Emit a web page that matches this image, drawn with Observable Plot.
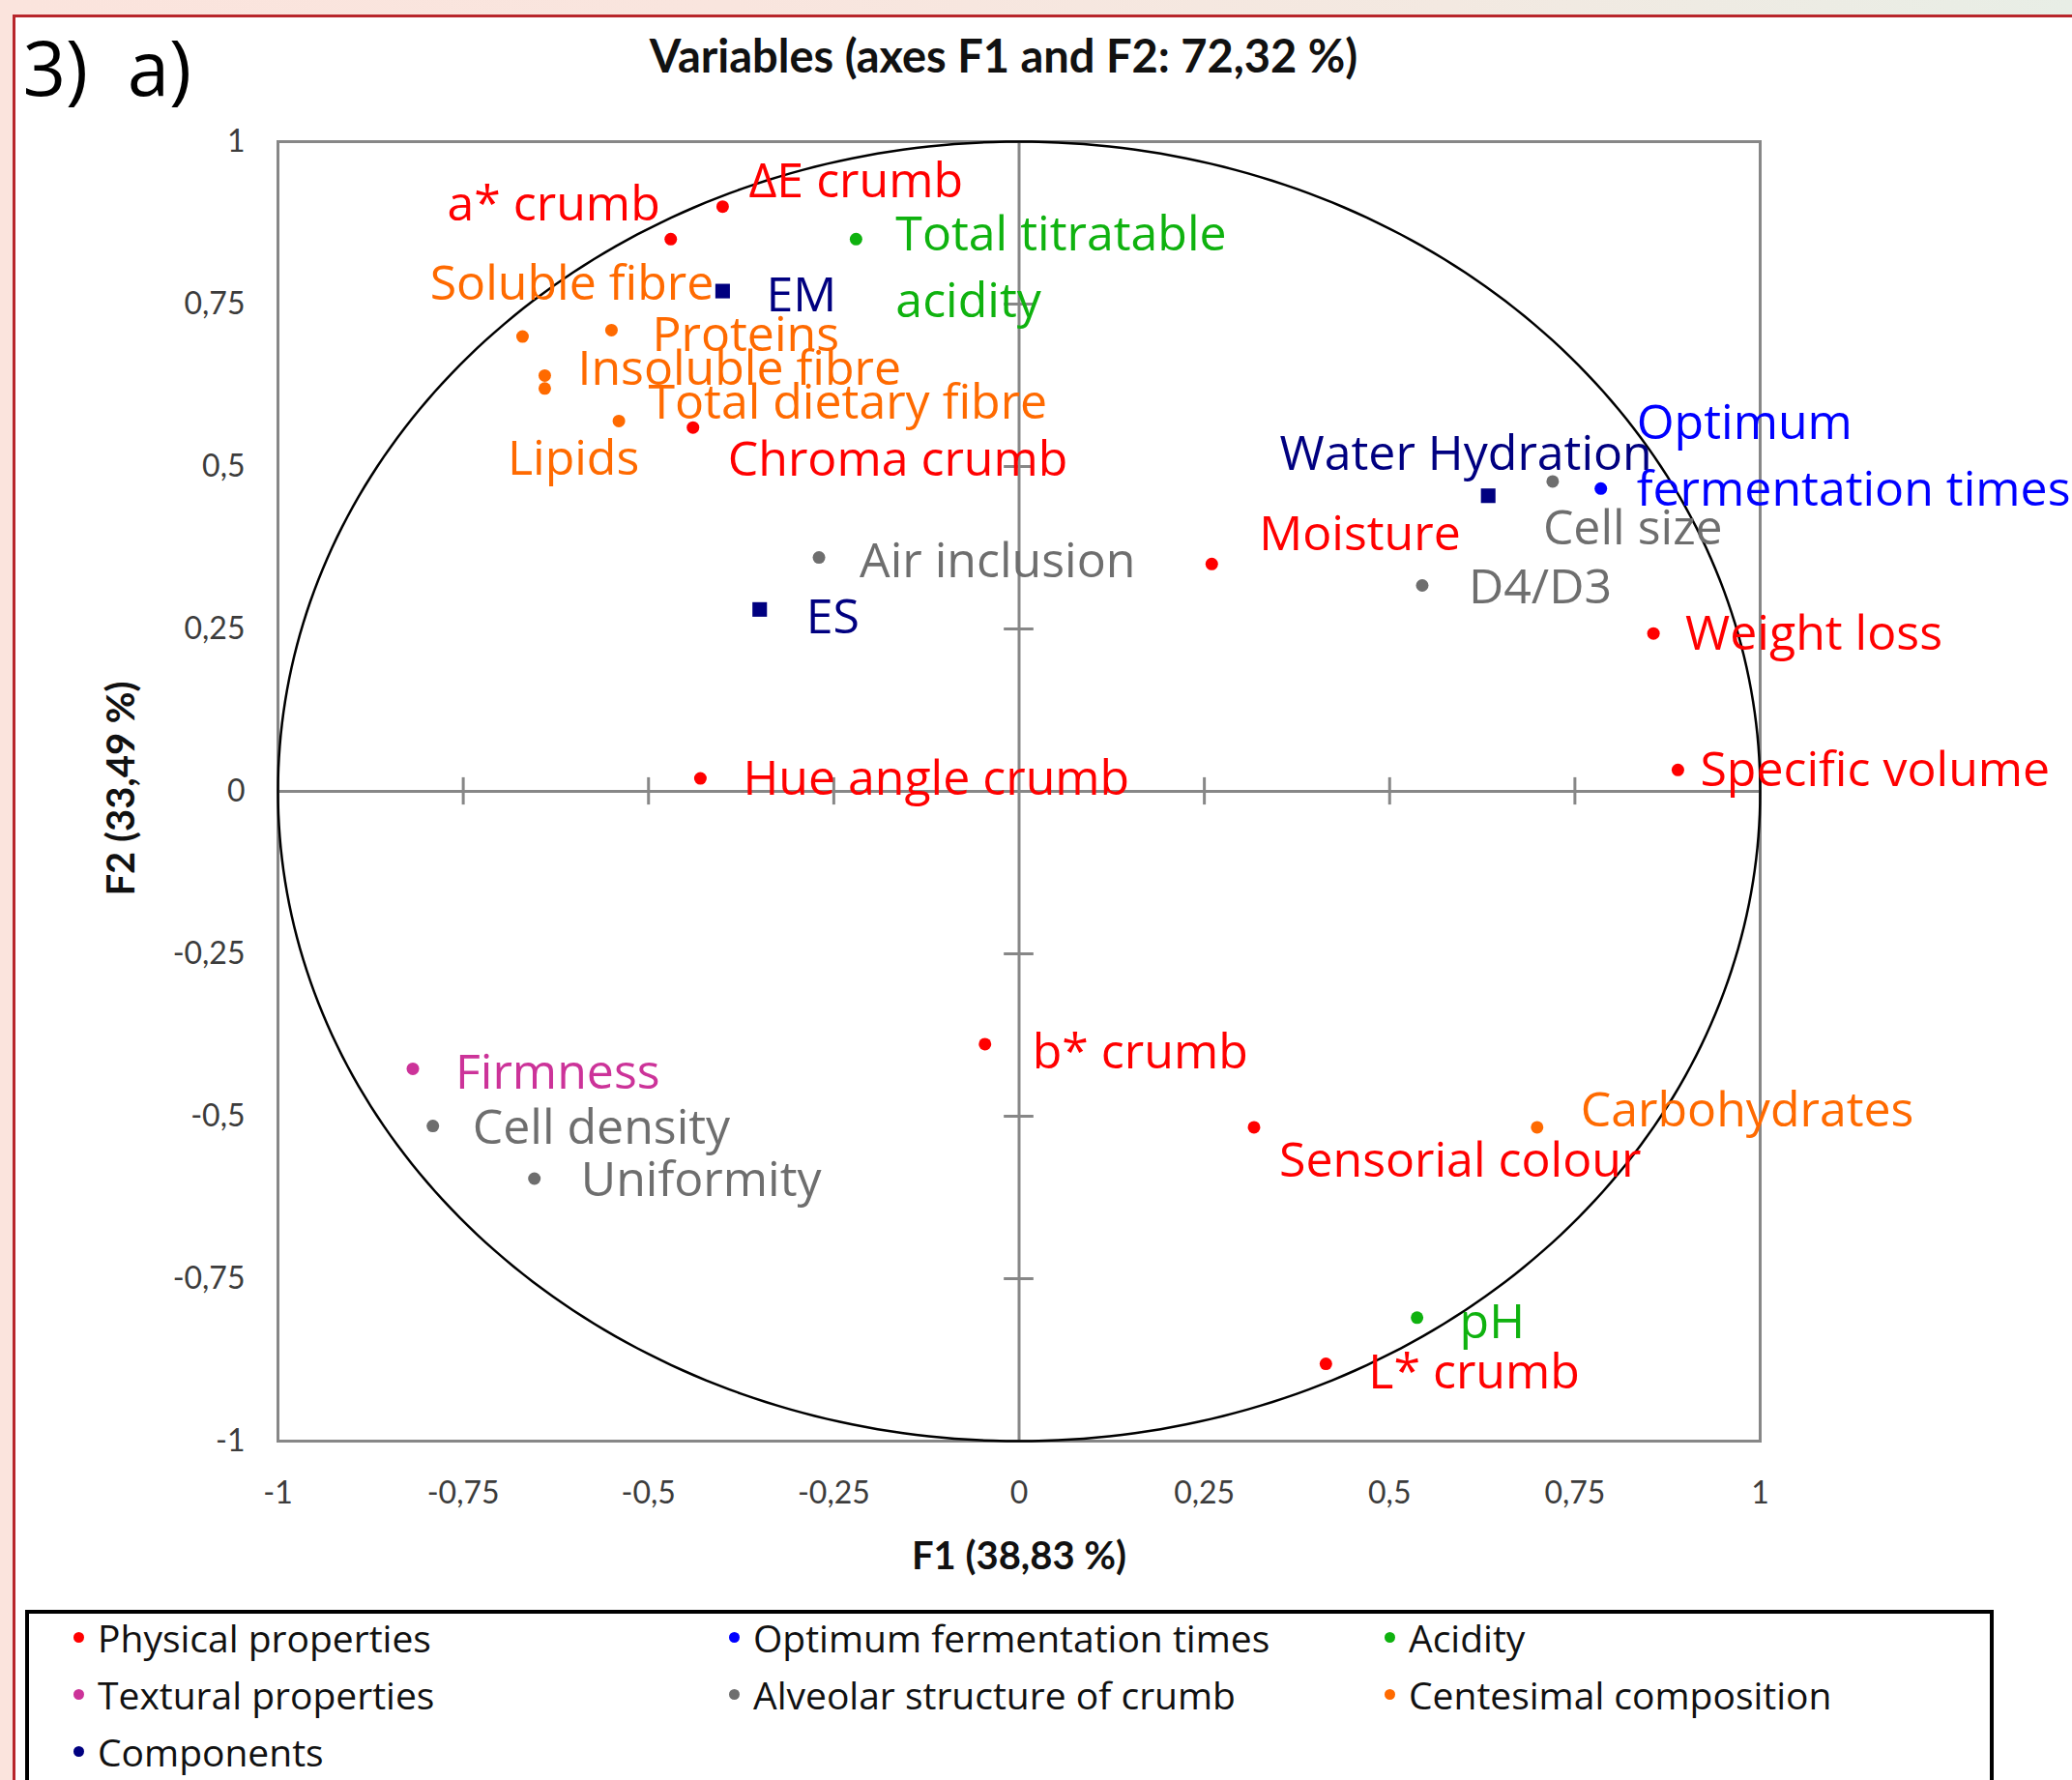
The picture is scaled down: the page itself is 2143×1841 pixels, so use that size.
<!DOCTYPE html>
<html>
<head>
<meta charset="utf-8">
<script src="https://cdn.jsdelivr.net/npm/d3@7"></script>
<script src="https://cdn.jsdelivr.net/npm/@observablehq/plot@0.6"></script>
<style>
html, body { margin: 0; padding: 0; }
body {
  width: 2143px; height: 1841px; position: relative; overflow: hidden;
  background: linear-gradient(90deg, #fbe4dd 0%, #f9e5de 35%, #f3e9e1 70%, #e8eee6 100%);
}
#panel {
  position: absolute; left: 13px; top: 15px; right: 0; bottom: 0;
  background: #ffffff; border-left: 3px solid #b8262b; border-top: 3px solid #b8262b;
}
#chart { position: absolute; left: 0; top: 0; }
#legend {
  position: absolute; left: 26px; top: 1665px; width: 2028px; height: 260px;
  border: 4px solid #000; background: #fff;
}
.item { position: absolute; display: flex; align-items: center; height: 60px;
  font-family: "Open Sans", sans-serif; font-size: 39px; color: #111; white-space: nowrap; }
.item .mk { width: 11px; height: 11px; border-radius: 50%; margin-right: 14px; flex: none; }
</style>
</head>
<body>
<div id="panel"></div>
<div id="chart"></div>
<div id="legend"></div>
<script>
// ---- data ----
const names = ["ΔE crumb", "a* crumb", "Total titratable acidity", "EM", "Soluble fibre", "Proteins",
  "Insoluble fibre", "Total dietary fibre", "Lipids", "Chroma crumb", "Air inclusion", "ES",
  "Hue angle crumb", "Moisture", "Water Hydration", "Cell size", "Optimum fermentation times",
  "D4/D3", "Weight loss", "Specific volume", "b* crumb", "Firmness", "Cell density", "Uniformity",
  "Sensorial colour", "Carbohydrates", "pH", "L* crumb"];
const f1 = [-0.40, -0.47, -0.22, -0.40, -0.67, -0.55, -0.64, -0.64, -0.54, -0.44, -0.27, -0.35,
  -0.43, 0.26, 0.633, 0.72, 0.785, 0.544, 0.856, 0.889, -0.046, -0.818, -0.791, -0.654,
  0.317, 0.699, 0.537, 0.414];
const f2 = [0.90, 0.85, 0.85, 0.77, 0.70, 0.71, 0.64, 0.62, 0.57, 0.56, 0.36, 0.28,
  0.02, 0.35, 0.455, 0.477, 0.466, 0.317, 0.243, 0.033, -0.389, -0.427, -0.515, -0.596,
  -0.517, -0.517, -0.81, -0.881];
const groups = ["Physical properties", "Physical properties", "Acidity", "Components",
  "Centesimal composition", "Centesimal composition", "Centesimal composition", "Centesimal composition",
  "Centesimal composition", "Physical properties", "Alveolar structure of crumb", "Components",
  "Physical properties", "Physical properties", "Components", "Alveolar structure of crumb",
  "Optimum fermentation times", "Alveolar structure of crumb", "Physical properties", "Physical properties",
  "Physical properties", "Textural properties", "Alveolar structure of crumb", "Alveolar structure of crumb",
  "Physical properties", "Centesimal composition", "Acidity", "Physical properties"];
const groupNames = ["Physical properties", "Optimum fermentation times", "Acidity",
  "Textural properties", "Alveolar structure of crumb", "Centesimal composition", "Components"];
const groupColors = ["#ff0000", "#0000ff", "#0fb20f", "#cc3399", "#6e6e6e", "#ff6a00", "#000080"];
const tickValues = [-1, -0.75, -0.5, -0.25, 0, 0.25, 0.5, 0.75, 1];
const title = "Variables (axes F1 and F2: 72,32 %)";
const xTitle = "F1 (38,83 %)";
const yTitle = "F2 (33,49 %)";
const panelTag = "3)  a)";

// ---- label placement (layout only) ----
const labelLayout = {
  "ΔE crumb": [27, -32, "start"],
  "a* crumb": [-11, -41, "end"],
  "Total titratable acidity": [41, 24, "start"],
  "EM": [45, -1, "start"],
  "Soluble fibre": [51, -60, "middle"],
  "Proteins": [42, 0, "start"],
  "Insoluble fibre": [34, -13, "start"],
  "Total dietary fibre": [107, 9, "start"],
  "Lipids": [-47, 33, "middle"],
  "Chroma crumb": [36, 28, "start"],
  "Air inclusion": [42, -2, "start"],
  "ES": [48, 3, "start"],
  "Hue angle crumb": [44, -5, "start"],
  "Moisture": [49, -36, "start"],
  "Water Hydration": [-23, -49, "middle"],
  "Cell size": [-10, 43, "start"],
  "Optimum fermentation times": [37, -39, "start"],
  "D4/D3": [48, -4, "start"],
  "Weight loss": [33, -5, "start"],
  "Specific volume": [23, -5, "start"],
  "b* crumb": [49, 3, "start"],
  "Firmness": [44, -2, "start"],
  "Cell density": [41, -4, "start"],
  "Uniformity": [48, -4, "start"],
  "Sensorial colour": [26, 29, "start"],
  "Carbohydrates": [45, -23, "start"],
  "pH": [44, -1, "start"],
  "L* crumb": [44, 3, "start"]
};
const wrapped = {
  "Total titratable acidity": "Total titratable\nacidity",
  "Optimum fermentation times": "Optimum\nfermentation times"
};

const points = names.map((name, i) => ({name, f1: f1[i], f2: f2[i], group: groups[i]}));
const colorOf = g => groupColors[groupNames.indexOf(g)];
const fmt = d => String(d).replace(".", ",");
const innerTicks = tickValues.filter(d => d !== 0 && Math.abs(d) !== 1);
const circle = d3.range(0, 361).map(a => ({cx: Math.cos(a * Math.PI / 180), cy: Math.sin(a * Math.PI / 180)}));
const gray = "#878787";

const labelMarks = points.map(p => {
  const [dx, dy, anchor] = labelLayout[p.name];
  return Plot.text([p], {
    x: "f1", y: "f2", text: d => wrapped[d.name] ?? d.name,
    dx, dy, textAnchor: anchor, fill: colorOf(p.group),
    fontSize: 50, fontFamily: "Open Sans", lineHeight: 1.38
  });
});

const chart = Plot.plot({
  width: 2143, height: 1660,
  marginLeft: 287, marginRight: 323, marginTop: 146, marginBottom: 170,
  style: {background: "transparent", fontFamily: "Lato, sans-serif", fontSize: "32px", color: "#3c3c3c", overflow: "visible"},
  x: {domain: [-1, 1], ticks: tickValues, tickFormat: fmt, tickSize: 0, tickPadding: 42, label: null},
  y: {domain: [-1, 1], ticks: tickValues, tickFormat: fmt, tickSize: 0, tickPadding: 34, label: null},
  marks: [
    Plot.frame({stroke: gray, strokeWidth: 3}),
    Plot.ruleY([0], {stroke: gray, strokeWidth: 3}),
    Plot.ruleX([0], {stroke: gray, strokeWidth: 3}),
    Plot.ruleX(innerTicks, {x: d => d, y1: -0.021, y2: 0.021, stroke: gray, strokeWidth: 3}),
    Plot.ruleY(innerTicks, {y: d => d, x1: -0.02, x2: 0.02, stroke: gray, strokeWidth: 3}),
    Plot.line(circle, {x: "cx", y: "cy", stroke: "#000", strokeWidth: 2.5}),
    Plot.dot(points.filter(p => p.group !== "Components"), {x: "f1", y: "f2", r: 6.5, fill: p => colorOf(p.group)}),
    Plot.dot(points.filter(p => p.group === "Components"), {x: "f1", y: "f2", r: 8.5, symbol: "square", fill: p => colorOf(p.group)}),
    ...labelMarks,
    Plot.text([title], {frameAnchor: "top", lineAnchor: "middle", dx: -16, dy: -87, fontFamily: "Lato", fontWeight: "bold", fontSize: 47, fill: "#111"}),
    Plot.text([panelTag], {frameAnchor: "top-left", lineAnchor: "middle", textAnchor: "start", dx: -264, dy: -72, fontFamily: "Open Sans", fontSize: 78, fill: "#000"}),
    Plot.text([xTitle], {frameAnchor: "bottom", lineAnchor: "middle", textAnchor: "middle", dy: 120, fontFamily: "Lato", fontWeight: "bold", fontSize: 40, fill: "#111"}),
    Plot.text([yTitle], {frameAnchor: "left", lineAnchor: "middle", textAnchor: "middle", dx: -161, dy: -3, rotate: -90, fontFamily: "Lato", fontWeight: "bold", fontSize: 40, fill: "#111"})
  ],
  color: {type: "identity"}
});
document.getElementById("chart").appendChild(chart);

// ---- legend ----
const legend = document.getElementById("legend");
groupNames.forEach((g, i) => {
  const col = i % 3, row = Math.floor(i / 3);
  const item = document.createElement("div");
  item.className = "item";
  item.style.left = (82 + col * 678 - 6 - 30) + "px";
  item.style.top = (1693 + row * 59 - 30 - 1669) + "px";
  const mk = document.createElement("span");
  mk.className = "mk";
  mk.style.background = groupColors[i];
  const tx = document.createElement("span");
  tx.textContent = g;
  item.appendChild(mk); item.appendChild(tx);
  legend.appendChild(item);
});
</script>
</body>
</html>
